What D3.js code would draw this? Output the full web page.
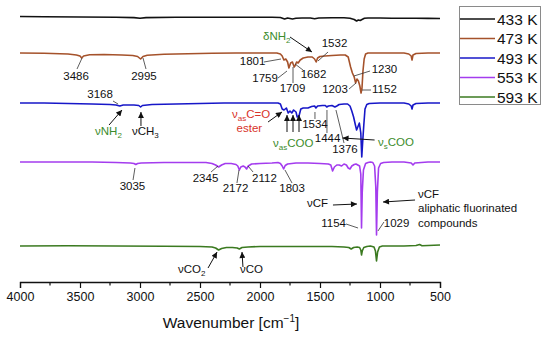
<!DOCTYPE html>
<meta charset="utf-8">
<script src="https://d3js.org/d3.v7.min.js"></script>
<head>
  <style>
  body { margin: 0; background: #fff; }
  svg text { font-family: "Liberation Sans", Arial, sans-serif; }
  </style>
</head>
<body>
<div id="my_dataviz"></div>
<script>

  // temperatures (legend) and trace colours
  var temps = ["433 K", "473 K", "493 K", "553 K", "593 K"]
  var colors = ["#111111", "#a5522b", "#1717c8", "#a43cee", "#3b7a20"]
  // vertical offset of each trace (arbitrary transmittance units)
  var offsets = [265, 229, 179, 120, 36]

  // spectra: wavenumber [cm-1] and relative signal (negative = absorption)
  var wn433 = [4000,3800,3500,3200,3050,3000,2950,2700,2400,2100,1900,1830,1795,1770,1730,1700,1650,1580,1545,1510,1400,1300,1250,1215,1195,1180,1165,1150,1130,1100,1000,900,800,700,600,500]
  var ab433 = [0.5,0.3,0,-0.3,-0.6,-1.3,-0.6,-0.3,-0.2,-0.2,-0.3,-0.5,-2,-1,-2,-1.2,-1,-1,-1.8,-1,-0.8,-0.8,-1.2,-2.5,-4,-3,-3.5,-2.5,-1.3,-1,-1,-1.2,-1.2,-1.2,-1.4,-1.5]

  var wn473 = [4000,3800,3600,3530,3500,3486,3470,3420,3300,3150,3060,3020,2995,2975,2940,2800,2600,2400,2200,2000,1860,1830,1815,1801,1785,1770,1759,1745,1730,1715,1709,1695,1682,1665,1640,1600,1565,1545,1532,1520,1500,1460,1400,1330,1290,1265,1245,1230,1215,1203,1192,1180,1168,1158,1150,1142,1132,1120,1100,1000,900,800,760,740,733,725,700,600,500]
  var ab473 = [0,-0.3,-1,-2,-3,-5,-3,-1.8,-1.5,-2,-2.5,-3.5,-6,-3.5,-2.2,-1.2,-0.7,-0.3,0,0,0,-1,-3,-7,-6,-9,-15,-10,-9,-14,-13,-9,-10,-7,-5,-4,-4,-6,-9,-5,-3.5,-3,-2.5,-2,-2,-4,-14,-20,-24,-30,-26,-28,-33,-40,-35,-18,-6,-1,0,0,0,0,-1,-3,-7,-2,-0.5,0,0]

  var wn493 = [4000,3800,3600,3400,3250,3200,3168,3140,3050,3010,2995,2980,2900,2700,2500,2300,2100,1900,1850,1830,1815,1800,1780,1765,1750,1735,1720,1700,1690,1675,1660,1640,1600,1570,1545,1534,1520,1480,1455,1444,1430,1400,1376,1360,1340,1300,1270,1250,1235,1220,1205,1195,1185,1172,1160,1152,1145,1135,1125,1110,1090,1000,900,800,760,740,733,725,700,600,500]
  var ab493 = [0,0,-0.5,-1,-1.5,-2,-3,-2,-2,-2.5,-4,-2.5,-1.5,-1,-0.5,0,0,0,0,-1,-6,-7,-5,-10,-8,-10,-7,-9,-14,-13,-6,-5,-5,-3.5,-3,-5,-3,-2.5,-2.5,-4,-3,-2.5,-4,-3,-1.5,-1,-1,-3,-8,-14,-22,-27,-24,-20,-30,-54,-40,-22,-6,-1.5,-0.5,0,0,0,-1,-3,-6,-2,-0.5,0,0]

  var wn553 = [4000,3700,3400,3200,3080,3050,3035,3020,2990,2800,2600,2450,2400,2370,2345,2320,2290,2240,2200,2185,2172,2160,2140,2125,2112,2098,2070,2000,1900,1850,1830,1815,1803,1790,1770,1700,1600,1500,1430,1410,1395,1380,1360,1340,1320,1300,1280,1265,1250,1235,1215,1200,1185,1170,1160,1154,1148,1138,1120,1100,1080,1060,1045,1035,1029,1022,1012,995,970,900,800,740,725,710,600,500]
  var ab553 = [0,0,0,-0.5,-1,-1.5,-2.5,-1.5,-1,-0.5,-0.5,-0.5,-1.5,-3,-5,-3,-1.5,-1.5,-2.5,-4,-8,-5,-4,-5,-7,-4,-2,-1.5,-1,-0.5,-1.5,-4,-7,-3.5,-2,-1,-1,-1.5,-2,-3,-9,-5,-3,-3,-4,-2,-3,-6,-7,-4,-2.5,-2,-3,-4,-12,-66,-30,-8,-1.5,-0.5,0,-0.5,-4,-25,-73,-30,-6,-1.5,-0.5,0,0,-1,-3,-1,0,0]

  var wn593 = [4000,3600,3200,2800,2500,2400,2370,2345,2320,2280,2230,2190,2172,2150,2100,2000,1800,1600,1400,1300,1260,1240,1220,1190,1170,1160,1154,1148,1135,1110,1080,1050,1038,1029,1020,1005,980,900,800,700,670,650,600,500]
  var ab593 = [0,0.3,0,-0.3,-0.5,-1,-2,-4,-2.5,-1.5,-1.5,-2,-3,-1.5,-1,-0.5,-0.5,-0.5,-0.5,-1,-1.5,-3,-1.5,-1,-1.5,-4,-9,-5,-1.5,-0.5,0,-1,-5,-15,-6,-1,0,0,0,0.5,1.5,0.3,0.5,1]

  var wns = [wn433, wn473, wn493, wn553, wn593]
  var abs = [ab433, ab473, ab493, ab553, ab593]

  // axis ticks
  var majorTicks = [4000, 3500, 3000, 2500, 2000, 1500, 1000, 500]
  var minorTicks = [3750, 3250, 2750, 2250, 1750, 1250, 750]

  // peak labels: text, wavenumber, level, then leader line (w1, y1, w2, y2)
  var peakText = ["3486","2995","3168","1801","1759","1709","1682","1532","1230","1203","1152","1534","1444","1376","3035","2345","2172","2112","1803","1154","1029"]
  var peakPos  = [[3533,202],[2967,202],[3333,184],[2062,217],[1958,200],[1729,190],[1554,204],[1379,235],[963,209],[1375,189],[963,189],[1542,154],[1437,140],[1292,129],[3063,92],[2454,100],[2204,90],[1963,100],[1733,90],[1387,55],[862,55]]
  var peakLead = [[3525,213,3483,224],[2950,213,2975,224],[3225,181,3183,178],[1967,220,1825,223],[1850,204,1775,211],[1725,199,1725,215],[1642,212,1708,218],[1517,221,1433,230],[1217,206,1083,211],[1258,193,1200,199],[1150,192,1075,192],[1542,170,1542,163],[1442,172,1442,149],[1367,172,1300,139],[3042,114,3058,102],[2408,110,2350,116],[2192,99,2175,112],[2100,116,2058,110],[1792,112,1733,99],[1283,58,1183,54],[967,60,1017,51]]

  // band assignments: parts [text, "sub"|""], start position, colour
  var bandParts = [
    [["δNH",""],["2","sub"]],
    [["ν",""],["as","sub"],["C=O",""]],
    [["ester",""]],
    [["ν",""],["as","sub"],["COO",""]],
    [["ν",""],["s","sub"],["COO",""]],
    [["νNH",""],["2","sub"]],
    [["νCH",""],["3","sub"]],
    [["νCF",""]],
    [["νCF",""]],
    [["aliphatic fluorinated",""]],
    [["compounds",""]],
    [["νCO",""],["2","sub"]],
    [["νCO",""]]
  ]
  var bandPos = [[1975,242],[2233,164],[2195,150],[1892,135],[1017,136],[3375,147],[3067,147],[1608,75],[683,84],[683,70],[683,55],[2683,9],[2167,9]]
  var bandColor = ["g","r","r","g","g","g","k","k","k","k","k","k","k"]

  // arrows (w1, y1) -> (w2, y2)
  var arrows = [[1750,245,1567,230],[1933,160,1817,170],[1775,150,1775,167],[1725,150,1725,167],[1675,150,1675,167],[1045,142,1312,144],[3258,157,3150,172],[2992,156,2992,170],[1392,77,1192,78],[708,82,975,80],[2433,14,2358,30],[2142,15,2150,30]]

  var textColor = {g: "#3c8c2c", r: "#d8332a", k: "#111"}

  var width = 550,
      height = 339

  var svg = d3.select("#my_dataviz")
    .append("svg")
    .attr("width", width)
    .attr("height", height)

  var x = d3.scaleLinear().domain([4000, 500]).range([20, 440])
  var y = d3.scaleLinear().domain([0, 282]).range([282, 0])

  svg.append("defs").append("marker")
    .attr("id", "arr")
    .attr("viewBox", "0 0 10 10")
    .attr("refX", 10).attr("refY", 5)
    .attr("markerWidth", 7).attr("markerHeight", 6)
    .attr("markerUnits", "userSpaceOnUse")
    .attr("orient", "auto")
    .append("path")
    .attr("d", "M0,0L10,5L0,10Z")
    .attr("fill", "#111")

  // spectra
  var line = d3.line()
    .x(function(d) { return x(d[0]) })
    .y(function(d) { return y(d[1]) })

  temps.forEach(function(t, i) {
    var pts = wns[i].map(function(w, j) { return [w, offsets[i] + abs[i][j]] })
    svg.append("path")
      .datum(pts)
      .attr("d", line)
      .attr("fill", "none")
      .attr("stroke", colors[i])
      .attr("stroke-width", 1.6)
      .attr("stroke-linejoin", "round")
  })

  // bottom axis
  var gx = svg.append("g")
    .attr("transform", "translate(0," + y(0) + ")")
    .call(d3.axisBottom(x).tickValues(majorTicks).tickSize(6).tickPadding(4).tickFormat(d3.format("d")))
  gx.select(".domain").attr("stroke", "#111").attr("stroke-width", 1.3)
  gx.selectAll(".tick line").attr("stroke", "#111").attr("stroke-width", 1.2)
  gx.selectAll("text").style("font-size", "12.5px").attr("fill", "#111")
  gx.selectAll(".minor").data(minorTicks).enter().append("line")
    .attr("x1", function(d) { return x(d) }).attr("x2", function(d) { return x(d) })
    .attr("y1", 0).attr("y2", 3.5)
    .attr("stroke", "#111").attr("stroke-width", 1.2)

  var title = svg.append("text")
    .attr("x", 231).attr("y", 328)
    .attr("text-anchor", "middle")
    .style("font-size", "15.5px")
    .attr("fill", "#111")
  title.append("tspan").text("Wavenumber [cm")
  title.append("tspan").text("−1").attr("dy", -6).style("font-size", "10px")
  title.append("tspan").text("]").attr("dy", 6)

  // peak labels with leader lines
  peakText.forEach(function(t, i) {
    var l = peakLead[i]
    svg.append("line")
      .attr("x1", x(l[0])).attr("y1", y(l[1]))
      .attr("x2", x(l[2])).attr("y2", y(l[3]))
      .attr("stroke", "#333").attr("stroke-width", 0.8)
    svg.append("text")
      .attr("x", x(peakPos[i][0])).attr("y", y(peakPos[i][1]))
      .attr("text-anchor", "middle")
      .style("font-size", "11.5px")
      .attr("fill", "#111")
      .text(t)
  })

  // arrows
  arrows.forEach(function(a) {
    svg.append("line")
      .attr("x1", x(a[0])).attr("y1", y(a[1]))
      .attr("x2", x(a[2])).attr("y2", y(a[3]))
      .attr("stroke", "#111").attr("stroke-width", 1)
      .attr("marker-end", "url(#arr)")
  })

  // band assignments
  bandParts.forEach(function(parts, i) {
    var t = svg.append("text")
      .attr("x", x(bandPos[i][0])).attr("y", y(bandPos[i][1]))
      .style("font-size", "11.5px")
      .attr("fill", textColor[bandColor[i]])
    var shifted = false
    parts.forEach(function(p) {
      var s = t.append("tspan").text(p[0])
      if (p[1] == "sub") {
        s.attr("dy", 3).style("font-size", "8px")
        shifted = true
      } else if (shifted) {
        s.attr("dy", -3)
        shifted = false
      }
    })
  })

  // legend
  var lg = svg.append("g")
  lg.append("rect")
    .attr("x", 459.5).attr("y", 6.5)
    .attr("width", 81).attr("height", 98)
    .attr("fill", "#fff").attr("stroke", "#8a8a8a").attr("stroke-width", 1)
  temps.forEach(function(t, i) {
    var ly = 19 + i * 19.5
    lg.append("line")
      .attr("x1", 460).attr("x2", 495)
      .attr("y1", ly).attr("y2", ly)
      .attr("stroke", colors[i]).attr("stroke-width", 1.5)
    lg.append("text")
      .attr("x", 497).attr("y", ly + 5.5)
      .style("font-size", "15.5px")
      .attr("fill", "#111")
      .text(t)
  })

</script>
</body>
